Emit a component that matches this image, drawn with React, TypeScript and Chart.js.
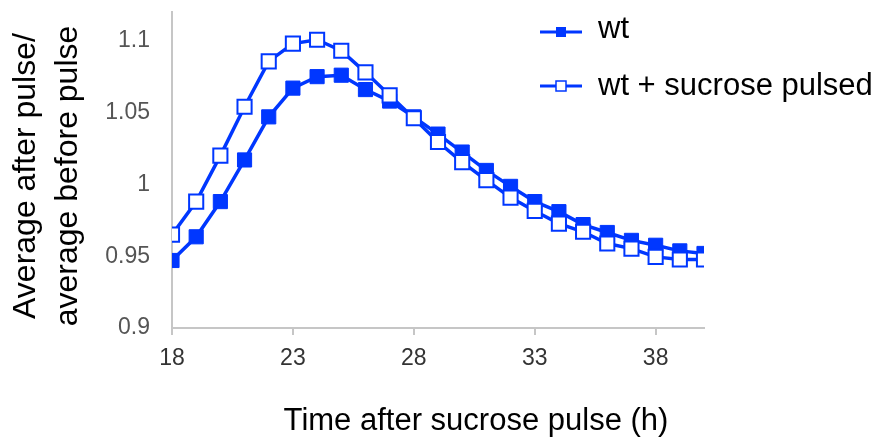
import React, { useEffect, useRef } from "react";
import { Chart, registerables } from "chart.js";

Chart.register(...registerables);

const hours = [18, 19, 20, 21, 22, 23, 24, 25, 26, 27, 28, 29, 30, 31, 32, 33, 34, 35, 36, 37, 38, 39, 40];
const wtValues = [0.947, 0.9635, 0.988, 1.017, 1.047, 1.067, 1.075, 1.076, 1.066, 1.058, 1.047, 1.035, 1.0225, 1.0097, 0.9986, 0.988, 0.981, 0.972, 0.9665, 0.961, 0.9576, 0.9537, 0.9519];
const sucroseValues = [0.965, 0.988, 1.02, 1.054, 1.0856, 1.098, 1.1007, 1.093, 1.078, 1.062, 1.046, 1.0295, 1.0155, 1.003, 0.9908, 0.9815, 0.9727, 0.967, 0.9588, 0.9553, 0.9495, 0.9477, 0.9477];
const xTicks = [18, 23, 28, 33, 38];
const yTicks = [0.9, 0.95, 1, 1.05, 1.1];
const seriesNames = ["wt", "wt + sucrose pulsed"];
const xTitle = "Time after sucrose pulse (h)";
const yTitleLines = ["Average after pulse/", "average before pulse"];

const BLUE = "#0037ff";
const AXIS = "#c6c6c6";
const FONT = "'Liberation Sans', Arial, sans-serif";

const customPlugin = {
  id: "customDecor",
  afterDraw(chart: any) {
    const ctx = chart.ctx as CanvasRenderingContext2D;
    ctx.save();
    // legend
    const items = [
      { label: seriesNames[0], filled: true, y: 32, base: 38 },
      { label: seriesNames[1], filled: false, y: 86, base: 95 },
    ];
    items.forEach((it) => {
      ctx.strokeStyle = BLUE;
      ctx.lineWidth = 3;
      ctx.beginPath();
      ctx.moveTo(540, it.y);
      ctx.lineTo(582, it.y);
      ctx.stroke();
      const s = 10;
      if (it.filled) {
        ctx.fillStyle = BLUE;
        ctx.fillRect(561 - s / 2, it.y - s / 2, s, s);
      } else {
        ctx.fillStyle = "#ffffff";
        ctx.fillRect(561 - s / 2, it.y - s / 2, s, s);
        ctx.lineWidth = 1.5;
        ctx.strokeRect(561 - s / 2, it.y - s / 2, s, s);
      }
      ctx.fillStyle = "#000000";
      ctx.font = `31px ${FONT}`;
      ctx.textAlign = "left";
      ctx.textBaseline = "alphabetic";
      ctx.fillText(it.label, 598, it.base);
    });
    // x title
    ctx.fillStyle = "#000000";
    ctx.font = `31px ${FONT}`;
    ctx.textAlign = "center";
    ctx.textBaseline = "alphabetic";
    ctx.fillText(xTitle, 476, 430);
    // y title
    ctx.font = `32px ${FONT}`;
    ctx.translate(0, 176);
    ctx.rotate(-Math.PI / 2);
    ctx.fillText(yTitleLines[0], 0, 35);
    ctx.fillText(yTitleLines[1], 0, 77);
    ctx.restore();
  },
};

export default function App() {
  const ref = useRef<HTMLCanvasElement | null>(null);

  useEffect(() => {
    document.body.style.margin = "0";
    const canvas = ref.current;
    if (!canvas) return;
    const chart = new Chart(canvas, {
      type: "line",
      data: {
        datasets: [
          {
            label: seriesNames[0],
            data: hours.map((h, i) => ({ x: h, y: wtValues[i] })),
            borderColor: BLUE,
            backgroundColor: BLUE,
            borderWidth: 3.5,
            pointStyle: "rect",
            pointRadius: 10,
            pointBorderWidth: 1,
            pointBackgroundColor: BLUE,
            pointBorderColor: BLUE,
            order: 2,
          },
          {
            label: seriesNames[1],
            data: hours.map((h, i) => ({ x: h, y: sucroseValues[i] })),
            borderColor: BLUE,
            backgroundColor: "#ffffff",
            borderWidth: 3.5,
            pointStyle: "rect",
            pointRadius: 10,
            pointBorderWidth: 2,
            pointBackgroundColor: "#ffffff",
            pointBorderColor: BLUE,
            order: 1,
          },
        ],
      },
      options: {
        animation: false,
        responsive: false,
        maintainAspectRatio: false,
        layout: { padding: { top: 10, right: 178, left: 0, bottom: 0 } },
        plugins: {
          legend: { display: false },
          tooltip: { enabled: false },
        },
        scales: {
          x: {
            type: "linear",
            min: 18,
            max: 40,
            afterBuildTicks: (scale: any) => {
              scale.ticks = xTicks.map((v) => ({ value: v }));
            },
            afterFit: (scale: any) => {
              scale.height = 114;
              scale.paddingLeft = 0;
              scale.paddingRight = 0;
            },
            grid: {
              drawOnChartArea: false,
              drawTicks: true,
              tickLength: 7,
              color: AXIS,
              lineWidth: 2,
            },
            border: { display: true, color: AXIS, width: 2 },
            ticks: {
              padding: 10,
              color: "#333333",
              font: { family: FONT, size: 23 },
              maxRotation: 0,
              autoSkip: false,
            },
          },
          y: {
            type: "linear",
            min: 0.9,
            max: 1.12,
            afterBuildTicks: (scale: any) => {
              scale.ticks = yTicks.map((v) => ({ value: v }));
            },
            afterFit: (scale: any) => {
              scale.width = 172;
              scale.paddingTop = 0;
              scale.paddingBottom = 0;
            },
            grid: { drawOnChartArea: false, drawTicks: false },
            border: { display: true, color: AXIS, width: 2 },
            ticks: {
              padding: 22,
              color: "#555555",
              font: { family: FONT, size: 23 },
              callback: (v: any) => String(Number(v)),
            },
          },
        },
      },
      plugins: [customPlugin],
    });
    return () => chart.destroy();
  }, []);

  return (
    <div style={{ width: 882, height: 442 }}>
      <canvas ref={ref} width={882} height={442} style={{ display: "block" }} />
    </div>
  );
}
